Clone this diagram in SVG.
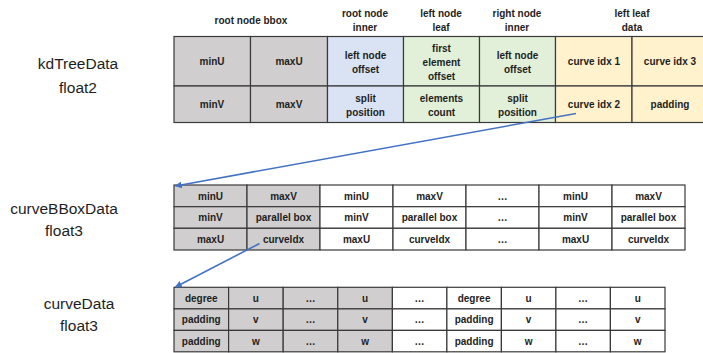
<svg xmlns="http://www.w3.org/2000/svg" width="703" height="353" viewBox="0 0 703 353">
  <style>
    .cell { stroke: #3a3a3a; stroke-width: 1.2; }
    .grey { fill: #d0cece; }
    .white { fill: #ffffff; }
    .blue { fill: #dae3f3; }
    .green { fill: #e2f0d9; }
    .yellow { fill: #fff2cc; }
    .t { font-family: "Liberation Sans", Arial, sans-serif; font-size: 10px; font-weight: bold; fill: #1e1e1e; text-anchor: middle; }
    .lbl { font-family: "Liberation Sans", Arial, sans-serif; font-size: 15.5px; fill: #1e1e1e; text-anchor: middle; }
    .link { fill: none; stroke: #4472c4; stroke-width: 1.6; }
  </style>
  <defs>
    <marker id="arrow" viewBox="0 0 10 10" refX="9" refY="5" markerWidth="7" markerHeight="7" orient="auto" markerUnits="userSpaceOnUse">
      <path d="M0,0 L10,5 L0,10 z" fill="#4472c4"/>
    </marker>
  </defs>
  <rect width="703" height="353" fill="#ffffff"/>

  <!-- kdTreeData -->
  <g id="kdTreeData">
    <text class="lbl" x="78" y="68.5">kdTreeData</text>
    <text class="lbl" x="78" y="92.5">float2</text>
    <text class="t" x="251" y="23.5">root node bbox</text>
    <text class="t" x="365" y="17">root node</text>
    <text class="t" x="365" y="30.5">inner</text>
    <text class="t" x="441" y="17">left node</text>
    <text class="t" x="441" y="30.5">leaf</text>
    <text class="t" x="517" y="17">right node</text>
    <text class="t" x="517" y="30.5">inner</text>
    <text class="t" x="632" y="17">left leaf</text>
    <text class="t" x="632" y="30.5">data</text>

    <rect class="cell grey" x="174" y="36.5" width="76.5" height="49.5"/>
    <rect class="cell grey" x="250.5" y="36.5" width="77" height="49.5"/>
    <rect class="cell blue" x="327.5" y="36.5" width="76" height="49.5"/>
    <rect class="cell green" x="403.5" y="36.5" width="76" height="49.5"/>
    <rect class="cell green" x="479.5" y="36.5" width="76" height="49.5"/>
    <rect class="cell yellow" x="555.5" y="36.5" width="76.5" height="49.5"/>
    <rect class="cell yellow" x="632" y="36.5" width="80" height="49.5"/>
    <rect class="cell grey" x="174" y="86" width="76.5" height="36.5"/>
    <rect class="cell grey" x="250.5" y="86" width="77" height="36.5"/>
    <rect class="cell blue" x="327.5" y="86" width="76" height="36.5"/>
    <rect class="cell green" x="403.5" y="86" width="76" height="36.5"/>
    <rect class="cell green" x="479.5" y="86" width="76" height="36.5"/>
    <rect class="cell yellow" x="555.5" y="86" width="76.5" height="36.5"/>
    <rect class="cell yellow" x="632" y="86" width="80" height="36.5"/>

    <text class="t" x="212" y="65">minU</text>
    <text class="t" x="289" y="65">maxU</text>
    <text class="t" x="365.5" y="58.5">left node</text>
    <text class="t" x="365.5" y="73">offset</text>
    <text class="t" x="441.5" y="51.5">first</text>
    <text class="t" x="441.5" y="65.5">element</text>
    <text class="t" x="441.5" y="80">offset</text>
    <text class="t" x="517.5" y="58.5">left node</text>
    <text class="t" x="517.5" y="73">offset</text>
    <text class="t" x="594" y="65">curve idx 1</text>
    <text class="t" x="670" y="65">curve idx 3</text>

    <text class="t" x="212" y="108">minV</text>
    <text class="t" x="289" y="108">maxV</text>
    <text class="t" x="365.5" y="102">split</text>
    <text class="t" x="365.5" y="116">position</text>
    <text class="t" x="441.5" y="102">elements</text>
    <text class="t" x="441.5" y="116">count</text>
    <text class="t" x="517.5" y="102">split</text>
    <text class="t" x="517.5" y="116">position</text>
    <text class="t" x="594" y="108">curve idx 2</text>
    <text class="t" x="670" y="108">padding</text>
  </g>

  <!-- curveBBoxData -->
  <g id="curveBBoxData">
    <text class="lbl" x="64" y="213.5">curveBBoxData</text>
    <text class="lbl" x="64" y="236">float3</text>
    <g>
      <rect class="cell grey" x="174" y="185" width="73" height="21.7"/>
      <rect class="cell grey" x="247" y="185" width="73" height="21.7"/>
      <rect class="cell white" x="320" y="185" width="73" height="21.7"/>
      <rect class="cell white" x="393" y="185" width="73" height="21.7"/>
      <rect class="cell white" x="466" y="185" width="73" height="21.7"/>
      <rect class="cell white" x="539" y="185" width="73" height="21.7"/>
      <rect class="cell white" x="612" y="185" width="73" height="21.7"/>
      <rect class="cell grey" x="174" y="206.7" width="73" height="21.6"/>
      <rect class="cell grey" x="247" y="206.7" width="73" height="21.6"/>
      <rect class="cell white" x="320" y="206.7" width="73" height="21.6"/>
      <rect class="cell white" x="393" y="206.7" width="73" height="21.6"/>
      <rect class="cell white" x="466" y="206.7" width="73" height="21.6"/>
      <rect class="cell white" x="539" y="206.7" width="73" height="21.6"/>
      <rect class="cell white" x="612" y="206.7" width="73" height="21.6"/>
      <rect class="cell grey" x="174" y="228.3" width="73" height="21.7"/>
      <rect class="cell grey" x="247" y="228.3" width="73" height="21.7"/>
      <rect class="cell white" x="320" y="228.3" width="73" height="21.7"/>
      <rect class="cell white" x="393" y="228.3" width="73" height="21.7"/>
      <rect class="cell white" x="466" y="228.3" width="73" height="21.7"/>
      <rect class="cell white" x="539" y="228.3" width="73" height="21.7"/>
      <rect class="cell white" x="612" y="228.3" width="73" height="21.7"/>
    </g>
    <text class="t" x="210.5" y="199.5">minU</text>
    <text class="t" x="283.5" y="199.5">maxV</text>
    <text class="t" x="356.5" y="199.5">minU</text>
    <text class="t" x="429.5" y="199.5">maxV</text>
    <text class="t" x="502.5" y="199.5">…</text>
    <text class="t" x="575.5" y="199.5">minU</text>
    <text class="t" x="648.5" y="199.5">maxV</text>

    <text class="t" x="210.5" y="221">minV</text>
    <text class="t" x="283.5" y="221">parallel box</text>
    <text class="t" x="356.5" y="221">minV</text>
    <text class="t" x="429.5" y="221">parallel box</text>
    <text class="t" x="502.5" y="221">…</text>
    <text class="t" x="575.5" y="221">minV</text>
    <text class="t" x="648.5" y="221">parallel box</text>

    <text class="t" x="210.5" y="242.5">maxU</text>
    <text class="t" x="283.5" y="242.5">curveIdx</text>
    <text class="t" x="356.5" y="242.5">maxU</text>
    <text class="t" x="429.5" y="242.5">curveIdx</text>
    <text class="t" x="502.5" y="242.5">…</text>
    <text class="t" x="575.5" y="242.5">maxU</text>
    <text class="t" x="648.5" y="242.5">curveIdx</text>
  </g>

  <!-- curveData -->
  <g id="curveData">
    <text class="lbl" x="79" y="308.5">curveData</text>
    <text class="lbl" x="79" y="331">float3</text>
    <g>
      <rect class="cell grey" x="174" y="287.3" width="54.6" height="21.6"/>
      <rect class="cell grey" x="228.6" y="287.3" width="54.6" height="21.6"/>
      <rect class="cell grey" x="283.2" y="287.3" width="54.6" height="21.6"/>
      <rect class="cell grey" x="337.8" y="287.3" width="54.6" height="21.6"/>
      <rect class="cell white" x="392.4" y="287.3" width="54.5" height="21.6"/>
      <rect class="cell white" x="446.9" y="287.3" width="54.5" height="21.6"/>
      <rect class="cell white" x="501.4" y="287.3" width="54.5" height="21.6"/>
      <rect class="cell white" x="555.9" y="287.3" width="54.5" height="21.6"/>
      <rect class="cell white" x="610.4" y="287.3" width="54.6" height="21.6"/>
      <rect class="cell grey" x="174" y="308.9" width="54.6" height="21.5"/>
      <rect class="cell grey" x="228.6" y="308.9" width="54.6" height="21.5"/>
      <rect class="cell grey" x="283.2" y="308.9" width="54.6" height="21.5"/>
      <rect class="cell grey" x="337.8" y="308.9" width="54.6" height="21.5"/>
      <rect class="cell white" x="392.4" y="308.9" width="54.5" height="21.5"/>
      <rect class="cell white" x="446.9" y="308.9" width="54.5" height="21.5"/>
      <rect class="cell white" x="501.4" y="308.9" width="54.5" height="21.5"/>
      <rect class="cell white" x="555.9" y="308.9" width="54.5" height="21.5"/>
      <rect class="cell white" x="610.4" y="308.9" width="54.6" height="21.5"/>
      <rect class="cell grey" x="174" y="330.4" width="54.6" height="21.4"/>
      <rect class="cell grey" x="228.6" y="330.4" width="54.6" height="21.4"/>
      <rect class="cell grey" x="283.2" y="330.4" width="54.6" height="21.4"/>
      <rect class="cell grey" x="337.8" y="330.4" width="54.6" height="21.4"/>
      <rect class="cell white" x="392.4" y="330.4" width="54.5" height="21.4"/>
      <rect class="cell white" x="446.9" y="330.4" width="54.5" height="21.4"/>
      <rect class="cell white" x="501.4" y="330.4" width="54.5" height="21.4"/>
      <rect class="cell white" x="555.9" y="330.4" width="54.5" height="21.4"/>
      <rect class="cell white" x="610.4" y="330.4" width="54.6" height="21.4"/>
    </g>
    <text class="t" x="201.3" y="301.5">degree</text>
    <text class="t" x="255.9" y="301.5">u</text>
    <text class="t" x="310.5" y="301.5">…</text>
    <text class="t" x="365.1" y="301.5">u</text>
    <text class="t" x="419.6" y="301.5">…</text>
    <text class="t" x="474.1" y="301.5">degree</text>
    <text class="t" x="528.6" y="301.5">u</text>
    <text class="t" x="583.1" y="301.5">…</text>
    <text class="t" x="637.7" y="301.5">u</text>

    <text class="t" x="201.3" y="323">padding</text>
    <text class="t" x="255.9" y="323">v</text>
    <text class="t" x="310.5" y="323">…</text>
    <text class="t" x="365.1" y="323">v</text>
    <text class="t" x="419.6" y="323">…</text>
    <text class="t" x="474.1" y="323">padding</text>
    <text class="t" x="528.6" y="323">v</text>
    <text class="t" x="583.1" y="323">…</text>
    <text class="t" x="637.7" y="323">v</text>

    <text class="t" x="201.3" y="344.5">padding</text>
    <text class="t" x="255.9" y="344.5">w</text>
    <text class="t" x="310.5" y="344.5">…</text>
    <text class="t" x="365.1" y="344.5">w</text>
    <text class="t" x="419.6" y="344.5">…</text>
    <text class="t" x="474.1" y="344.5">padding</text>
    <text class="t" x="528.6" y="344.5">w</text>
    <text class="t" x="583.1" y="344.5">…</text>
    <text class="t" x="637.7" y="344.5">w</text>
  </g>

  <!-- connectors -->
  <g id="connectors">
    <line class="link" x1="576" y1="113.5" x2="175.5" y2="186" marker-end="url(#arrow)"/>
    <line class="link" x1="259.5" y1="243.5" x2="175.5" y2="287" marker-end="url(#arrow)"/>
  </g>
</svg>
